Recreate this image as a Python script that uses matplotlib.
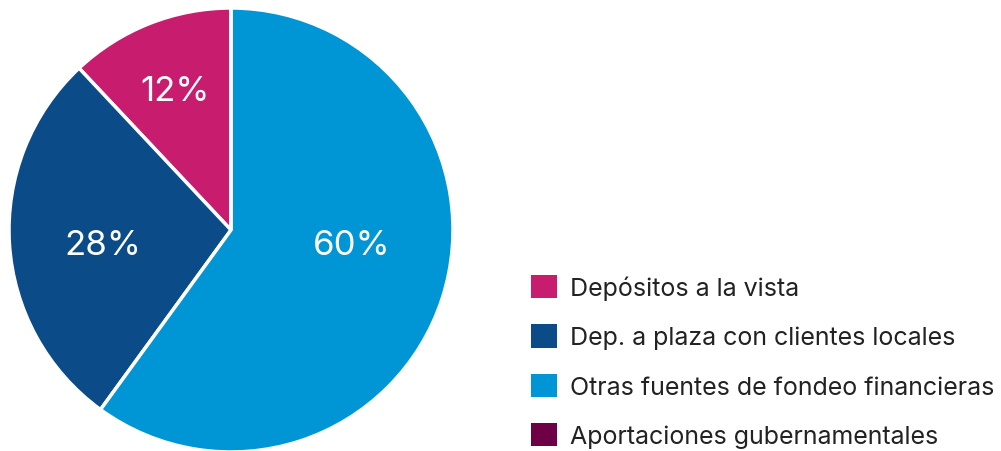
import matplotlib
matplotlib.use("Agg")
import matplotlib.pyplot as plt

categories = ["Depósitos a la vista", "Dep. a plaza con clientes locales",
              "Otras fuentes de fondeo financieras", "Aportaciones gubernamentales"]
values = [12, 28, 60, 0]
colors = ["#C81C6E", "#0B4B88", "#0096D6", "#6E0045"]

plt.rcParams['font.family'] = ['Inter', 'DejaVu Sans']

W, H = 1001, 452
fig = plt.figure(figsize=(W / 100, H / 100), dpi=100)
cx, cy, r = 231, 231, 222
ax = fig.add_axes([(cx - r) / W, (H - cy - r) / H, 2 * r / W, 2 * r / H])

def fmt(p):
    return f"{p:.0f}%" if p > 0.5 else ""

wedges, texts, autotexts = ax.pie(
    values, colors=colors, startangle=90, counterclock=True,
    radius=1, autopct=fmt, pctdistance=0.6,
    wedgeprops=dict(edgecolor="white", linewidth=2.5),
    textprops=dict(color="white", fontsize=25))
label_pos = [(-0.252, 0.625), (-0.577, -0.068), (0.545, -0.068)]
for t, pos in zip(autotexts, label_pos):
    t.set_position(pos)
    t.set_ha("center")
    t.set_va("center")
ax.set_xlim(-1, 1)
ax.set_ylim(-1, 1)
ax.set_aspect("equal")
ax.axis("off")

leg = fig.legend(wedges, categories, loc="upper left",
                 bbox_to_anchor=(531 / W, 1 - 276 / H),
                 frameon=False, handlelength=1.05, handleheight=1.05,
                 handletextpad=0.5, labelspacing=0.97, borderpad=0, borderaxespad=0,
                 prop=dict(size=18))
for txt in leg.get_texts():
    txt.set_color("#222222")
for h in leg.legend_handles:
    h.set_edgecolor("none")

fig.savefig("out.png", dpi=100)
